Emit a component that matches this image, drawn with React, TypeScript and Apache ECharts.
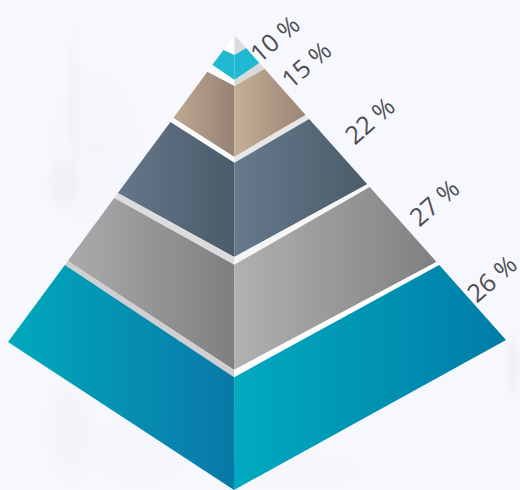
import React, { useEffect, useRef } from "react";
import * as echarts from "echarts";

// Percentages, top to bottom
const layerNames = ["Level 1", "Level 2", "Level 3", "Level 4", "Level 5"];
const layerValues = [10, 15, 22, 27, 26];

// Where each layer starts and ends along the three ridges (0 = apex, 1 = base)
const leftTop = [0.049, 0.12, 0.283, 0.531, 0.749];
const leftBottom = [0.098, 0.27, 0.515, 0.736, 1];
const centreTop = [0.044, 0.112, 0.281, 0.505, 0.752];
const centreBottom = [0.099, 0.268, 0.488, 0.736, 1];
const rightTop = [0.043, 0.111, 0.275, 0.498, 0.754];
const rightBottom = [0.092, 0.262, 0.489, 0.744, 1];

// Scene geometry and styles
const APEX = [234.5, 35];
const LEFT_CORNER = [8, 342];
const CENTRE_CORNER = [234, 490];
const RIGHT_CORNER = [506, 340];
const LEFT_FILL = [
  ["#1fb9d1", "#1fb9d1"],
  ["#bfa993", "#968273"],
  ["#64778a", "#4a5b6a"],
  ["#ababab", "#7f7f7f"],
  ["#00a9bd", "#0a78a8"],
];
const RIGHT_FILL = [
  ["#1fb9d1", "#1fb9d1"],
  ["#c4af97", "#9b8575"],
  ["#67798c", "#4a5d6b"],
  ["#b1b1b1", "#808080"],
  ["#00aabf", "#007ca8"],
];
const LEFT_BAND = ["#fcfcfd", "#fbfbfc", "#dcdcde", "#cfcfd0"];
const RIGHT_BAND = ["#d9d9db", "#e7e7e9", "#f6f6f7", "#ffffff"];
const TIP_LEFT = "#ffffff";
const TIP_RIGHT = "#dcdcdc";
const LABEL_OFFSET = [
  [28, -10],
  [41, -5],
  [60, 1],
  [64, 15],
  [52, 13],
];
const LABEL_COLOR = "#4d4d4f";
const LABEL_ROTATION = (41 * Math.PI) / 180;
const BACKGROUND = "#f7f8fd";
// Faint mottling of the paper: cx, cy, rx, ry, opacity
const SMUDGES = [
  [74, 95, 9, 75, 0.14],
  [63, 185, 20, 32, 0.22],
  [95, 150, 50, 85, 0.09],
  [70, 430, 28, 60, 0.14],
  [140, 450, 60, 40, 0.07],
  [300, 470, 70, 22, 0.05],
  [513, 365, 9, 35, 0.25],
  [60, 330, 18, 50, 0.06],
];

const along = (corner: number[], t: number) => [
  APEX[0] + (corner[0] - APEX[0]) * t,
  APEX[1] + (corner[1] - APEX[1]) * t,
];
const L = (t: number) => along(LEFT_CORNER, t);
const C = (t: number) => along(CENTRE_CORNER, t);
const R = (t: number) => along(RIGHT_CORNER, t);

type Face = { points: number[][]; fill: string[] };

function buildFaces(): Face[] {
  const faces: Face[] = [];
  faces.push({ points: [APEX, L(leftTop[0]), C(centreTop[0])], fill: [TIP_LEFT, TIP_LEFT] });
  faces.push({ points: [APEX, C(centreTop[0]), R(rightTop[0])], fill: [TIP_RIGHT, TIP_RIGHT] });
  layerValues.forEach((_, i) => {
    faces.push({
      points: [L(leftTop[i]), L(leftBottom[i]), C(centreBottom[i]), C(centreTop[i])],
      fill: LEFT_FILL[i],
    });
    faces.push({
      points: [C(centreTop[i]), C(centreBottom[i]), R(rightBottom[i]), R(rightTop[i])],
      fill: RIGHT_FILL[i],
    });
    if (i < layerValues.length - 1) {
      faces.push({
        points: [L(leftBottom[i]), L(leftTop[i + 1]), C(centreTop[i + 1]), C(centreBottom[i])],
        fill: [LEFT_BAND[i], LEFT_BAND[i]],
      });
      faces.push({
        points: [C(centreBottom[i]), C(centreTop[i + 1]), R(rightTop[i + 1]), R(rightBottom[i])],
        fill: [RIGHT_BAND[i], RIGHT_BAND[i]],
      });
    }
  });
  return faces;
}

export default function App() {
  const ref = useRef<HTMLDivElement>(null);
  useEffect(() => {
    document.body.style.margin = "0";
    const chart = echarts.init(ref.current!, undefined, { renderer: "svg" });
    const faces = buildFaces();
    chart.setOption({
      animation: false,
      backgroundColor: BACKGROUND,
      grid: { left: 0, right: 0, top: 0, bottom: 0 },
      xAxis: { type: "value", min: 0, max: 520, show: false },
      yAxis: { type: "value", min: 0, max: 490, inverse: true, show: false },
      graphic: SMUDGES.map(([cx, cy, rx, ry, a]) => ({
        type: "ellipse",
        silent: true,
        z: -10,
        shape: { cx, cy, rx, ry },
        style: {
          fill: new echarts.graphic.RadialGradient(0.5, 0.5, 0.5, [
            { offset: 0, color: `rgba(215,215,215,${a})` },
            { offset: 0.6, color: `rgba(215,215,215,${a * 0.6})` },
            { offset: 1, color: "rgba(215,215,215,0)" },
          ]),
        },
      })),
      series: [
        {
          type: "custom",
          coordinateSystem: "cartesian2d",
          clip: false,
          silent: true,
          data: faces.map((_, i) => [i, 0]),
          renderItem: (params: any, api: any) => {
            const face = faces[params.dataIndex];
            const fill = new echarts.graphic.LinearGradient(0, 0, 1, 0, [
              { offset: 0, color: face.fill[0] },
              { offset: 1, color: face.fill[1] },
            ]);
            return {
              type: "polygon",
              shape: { points: face.points.map((p) => api.coord(p)) },
              style: { fill, stroke: "none" },
            };
          },
        },
        {
          type: "custom",
          coordinateSystem: "cartesian2d",
          clip: false,
          silent: true,
          data: layerValues.map((v, i) => ({ name: layerNames[i], value: [i, v] })),
          renderItem: (params: any, api: any) => {
            const i = params.dataIndex;
            const anchor = R(rightTop[i]);
            const pos = api.coord([anchor[0] + LABEL_OFFSET[i][0], anchor[1] + LABEL_OFFSET[i][1]]);
            return {
              type: "text",
              x: pos[0],
              y: pos[1],
              rotation: LABEL_ROTATION,
              style: {
                text: `${api.value(1)} %`,
                fill: LABEL_COLOR,
                font: '25px "Open Sans"',
                align: "center",
                verticalAlign: "middle",
              },
            };
          },
        },
      ],
    });
    return () => chart.dispose();
  }, []);
  return <div ref={ref} style={{ width: 520, height: 490 }} />;
}
